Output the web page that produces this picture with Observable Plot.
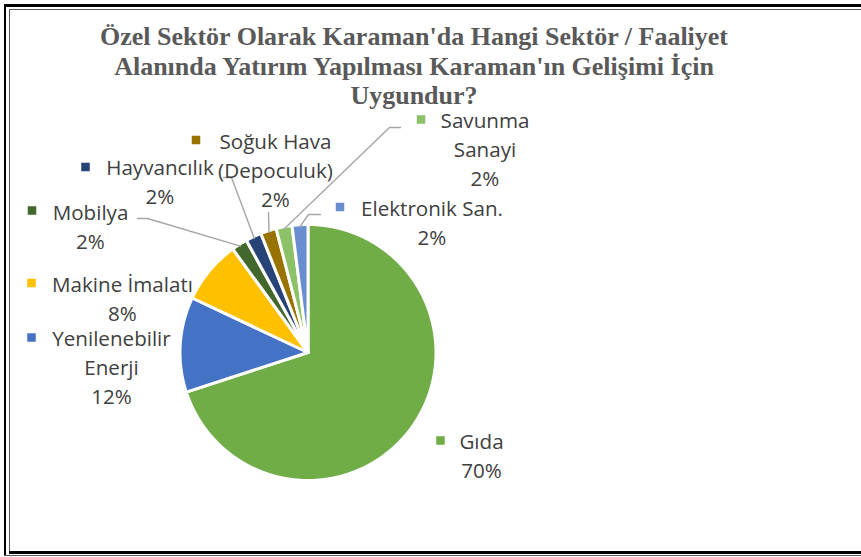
<!DOCTYPE html>
<html><head><meta charset="utf-8">
<script src="https://cdn.jsdelivr.net/npm/d3@7"></script>
<script src="https://cdn.jsdelivr.net/npm/@observablehq/plot@0.6"></script>
<style>
html,body{margin:0;padding:0;background:#fff;}
#wrap{position:relative;width:861px;height:557px;overflow:hidden;background:#fff;}
#title{position:absolute;left:0;top:22px;width:828px;text-align:center;font-family:"Liberation Serif",serif;font-weight:bold;font-size:26px;line-height:29.5px;color:#595959;z-index:2;}
.b{position:absolute;background:#000;}
.g{position:absolute;background:#555;}
#wrap svg{position:absolute;left:0;top:0;}
</style></head><body>
<div id="wrap">
  <div class="b" style="left:3.5px;top:3.5px;width:2.5px;height:552px"></div>
  <div class="b" style="left:3.5px;top:3.5px;width:860px;height:3px"></div>
  <div class="g" style="left:8.5px;top:8.5px;width:1.5px;height:544px"></div>
  <div class="g" style="left:8.5px;top:8.5px;width:860px;height:1.5px"></div>
  <div class="b" style="left:8.5px;top:551px;width:860px;height:2.5px"></div>
  <div class="g" style="left:3.5px;top:554.5px;width:860px;height:1px"></div>
  <div id="title">Özel Sektör Olarak Karaman'da Hangi Sektör / Faaliyet<br>Alanında Yatırım Yapılması Karaman'ın Gelişimi İçin<br>Uygundur?</div>
</div>
<script>
// ---- data ----
const categories = ["Gıda","Yenilenebilir Enerji","Makine İmalatı","Mobilya","Hayvancılık","Soğuk Hava (Depoculuk)","Savunma Sanayi","Elektronik San."];
const percents = [70, 12, 8, 2, 2, 2, 2, 2];
const percentLabels = ["70%","12%","8%","2%","2%","2%","2%","2%"];
const labelNames = [["Gıda"],["Yenilenebilir","Enerji"],["Makine İmalatı"],["Mobilya"],["Hayvancılık"],["Soğuk Hava","(Depoculuk)"],["Savunma","Sanayi"],["Elektronik San."]];
const colors = ["#70AD47","#4472C4","#FFC000","#43682B","#264478","#997300","#8CC168","#698ED0"];

// ---- layout (pixels) ----
const CX = 307.5, CY = 352, R = 128;
const LINE = 29.3, FS = 20.6;
// label text center x, first baseline y, marker center
const labelLayout = [
  {x:481,   y:448, mx:440,   my:440},
  {x:111,   y:345, mx:31,    my:337},
  {x:122,   y:291, mx:31,    my:282.5},
  {x:90,    y:219, mx:31.5,  my:210},
  {x:159.5, y:174, mx:85,    my:166.5},
  {x:275,   y:148, mx:195.5, my:139.5},
  {x:484.5, y:127, mx:420.5, my:119},
  {x:431.5, y:215, mx:339.5, my:206.5}
];
// leader line starting points (pixels); they end at the slice's mid-angle on the rim
const leaderStarts = [null, null, null,
  [[137,218],[147,218]],
  [[223,177],[231,177]],
  [[268,212]],
  [[400,127],[389,127]],
  [[320,214],[308,214]]
];

const ux = px => (px - CX) / R;
const uy = py => (CY - py) / R;

// slices
const arcs = d3.pie().sort(null).value(d => d)(percents);
const slicePts = [];
arcs.forEach((a, i) => {
  const cat = categories[i];
  slicePts.push({cat, x: 0, y: 0});
  const n = Math.max(2, Math.ceil((a.endAngle - a.startAngle) / (Math.PI / 360)));
  for (let k = 0; k <= n; k++) {
    const t = a.startAngle + (a.endAngle - a.startAngle) * k / n;
    slicePts.push({cat, x: Math.sin(t), y: Math.cos(t)});
  }
});

// leaders
const leaderPts = [];
leaderStarts.forEach((s, i) => {
  if (!s) return;
  const cat = categories[i];
  s.forEach(([px, py]) => leaderPts.push({cat, x: ux(px), y: uy(py)}));
  const m = (arcs[i].startAngle + arcs[i].endAngle) / 2;
  leaderPts.push({cat, x: 0.985 * Math.sin(m), y: 0.985 * Math.cos(m)});
});

// text rows
const textRows = [];
const markers = [];
categories.forEach((cat, i) => {
  const L = labelLayout[i];
  const lines = [...labelNames[i], percentLabels[i]];
  lines.forEach((t, k) => textRows.push({cat, t, x: ux(L.x), y: uy(L.y + k * LINE)}));
  markers.push({cat, x: ux(L.mx), y: uy(L.my)});
});

const chart = Plot.plot({
  width: 861, height: 557, margin: 0,
  x: {domain: [-1, 1], range: [CX - R, CX + R], axis: null},
  y: {domain: [-1, 1], range: [CY + R, CY - R], axis: null},
  color: {domain: categories, range: colors},
  style: {background: "transparent", overflow: "visible"},
  marks: [
    Plot.line(slicePts, {x: "x", y: "y", z: "cat", fill: "cat", stroke: "white", strokeWidth: 3, curve: "linear-closed", strokeLinejoin: "round"}),
    Plot.line(leaderPts, {x: "x", y: "y", z: "cat", stroke: "#A6A6A6", strokeWidth: 1.4}),
    Plot.dot(markers, {x: "x", y: "y", symbol: "square", r: 4.8, fill: "cat"}),
    Plot.text(textRows, {x: "x", y: "y", text: "t", textAnchor: "middle", lineAnchor: "bottom", fontSize: FS, fontFamily: "Open Sans", fill: "#404040"})
  ]
});
document.getElementById("wrap").appendChild(chart);
</script>
</body></html>
